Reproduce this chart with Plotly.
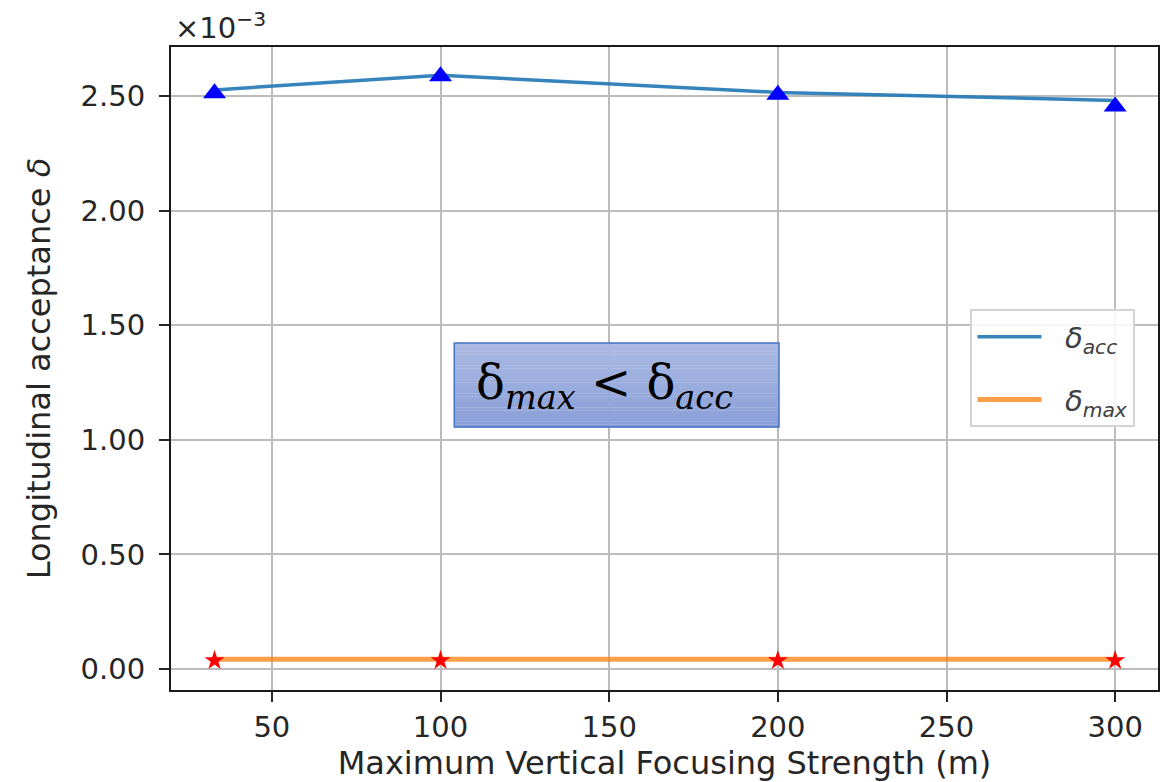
import plotly.graph_objects as go

# Data (in units of 1e-3)
beta_max = [33, 100, 200, 300]
delta_acc_line = [2.526, 2.59, 2.515, 2.48]
delta_acc_pts = [2.511, 2.585, 2.505, 2.454]
delta_max_line = [0.043, 0.043, 0.043, 0.043]
delta_max_pts = [0.038, 0.038, 0.038, 0.038]
x_ticks = [50, 100, 150, 200, 250, 300]
y_ticks = [0.0, 0.5, 1.0, 1.5, 2.0, 2.5]

fig = go.Figure()
fig.add_trace(go.Scatter(x=beta_max, y=delta_acc_line, mode="lines",
                         line=dict(color="rgba(31,119,180,0.9)", width=3.5),
                         name="\u00a0\u00a0<i>δ<sub>acc</sub></i>", legendgroup="a"))
fig.add_trace(go.Scatter(x=beta_max, y=delta_max_line, mode="lines",
                         line=dict(color="rgba(255,127,14,0.75)", width=5),
                         name="\u00a0\u00a0<i>δ<sub>max</sub></i>", legendgroup="b"))
fig.add_trace(go.Scatter(x=beta_max, y=delta_acc_pts, mode="markers",
                         marker=dict(symbol="triangle-up", color="#0000ff", size=20),
                         showlegend=False))
fig.add_trace(go.Scatter(x=beta_max, y=delta_max_pts, mode="markers",
                         marker=dict(symbol="star", color="#ff0000", size=15),
                         showlegend=False))

# gradient text box
x0, x1, y0, y1 = 0.287, 0.616, 0.409, 0.5395
n = 30
c_top = (170, 186, 227)
c_bot = (138, 159, 216)
shapes = []
for i in range(n):
    t = i / (n - 1)
    c = tuple(int(round(c_top[k] + (c_bot[k] - c_top[k]) * t)) for k in range(3))
    ya = y1 - (y1 - y0) * i / n
    yb = y1 - (y1 - y0) * (i + 1) / n
    shapes.append(dict(type="rect", xref="paper", yref="paper", x0=x0, x1=x1,
                       y0=yb - 0.0005, y1=ya, fillcolor="rgb(%d,%d,%d)" % c,
                       line=dict(width=0), layer="above"))
shapes.append(dict(type="rect", xref="paper", yref="paper", x0=x0, x1=x1, y0=y0, y1=y1,
                   line=dict(color="#4472c4", width=1.5), layer="above"))

fig.update_layout(
    width=1170, height=782,
    margin=dict(l=171, r=10, t=47, b=90),
    plot_bgcolor="white", paper_bgcolor="white",
    font=dict(family="DejaVu Sans", size=29, color="#262626"),
    shapes=shapes,
    legend=dict(x=0.81, y=0.592, xanchor="left", yanchor="top",
                bgcolor="rgba(255,255,255,0.85)", bordercolor="#d4d4d4", borderwidth=2,
                font=dict(size=29, color="#404040"), itemwidth=64, tracegroupgap=22),
    annotations=[
        dict(xref="paper", yref="paper", x=0.0, y=1.0, xanchor="left", yanchor="bottom",
             text="×10<sup>−3</sup>", showarrow=False, font=dict(size=29), yshift=0, xshift=2),
        dict(xref="paper", yref="paper", x=0.307, y=(y0 + y1) / 2,
             xanchor="left", yanchor="middle", showarrow=False,
             text="δ<sub><i>max</i></sub> &lt; δ<sub><i>acc</i></sub>",
             font=dict(family="DejaVu Serif", size=48, color="black")),
    ],
)
fig.update_xaxes(range=[20.1, 312.7], tickvals=x_ticks, showgrid=True, gridcolor="#bcbcbc",
                 gridwidth=2, showline=True, linecolor="#1a1a1a", linewidth=2, mirror=True,
                 ticks="outside", ticklen=10, tickwidth=2, tickcolor="#262626", zeroline=False,
                 title=dict(text="Maximum Vertical Focusing Strength (m)", font=dict(size=32), standoff=6))
fig.update_yaxes(range=[-0.091, 2.713], tickvals=y_ticks, tickformat=".2f", showgrid=True,
                 gridcolor="#bcbcbc", gridwidth=2, showline=True, linecolor="#1a1a1a", linewidth=2,
                 mirror=True, ticks="outside", ticklen=10, tickwidth=2, tickcolor="#262626",
                 zeroline=False, ticklabelstandoff=8,
                 title=dict(text="Longitudinal acceptance <i>δ</i>", font=dict(size=32), standoff=20))

fig.write_html("out.html")
